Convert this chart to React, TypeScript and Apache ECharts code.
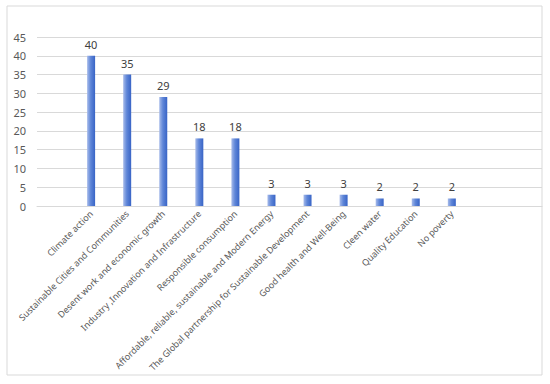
import React, { useEffect, useRef } from "react";
import * as echarts from "echarts";

const categories = [
  "",
  "Climate action",
  "Sustainable Cities and Communities",
  "Desent work and economic growth",
  "Industry ,Innovation and Infrastructure",
  "Responsible consumption",
  "Affordable, reliable, sustainable and Modern Energy",
  "The Global partnership for Sustainable Development",
  "Good health and Well-Being",
  "Cleen water",
  "Quality Education",
  "No poverty",
  "",
  "",
];
const values: (number | null)[] = [null, 40, 35, 29, 18, 18, 3, 3, 3, 2, 2, 2, null, null];
const yTicks = { min: 0, max: 45, interval: 5 };

export default function App() {
  const ref = useRef<HTMLDivElement>(null);
  useEffect(() => {
    const chart = echarts.init(ref.current!, null, { renderer: "svg" });
    chart.setOption({
      animation: false,
      graphic: [
        {
          type: "rect",
          shape: { x: 7, y: 6, width: 535, height: 369 },
          style: { fill: "none", stroke: "#d9d9d9", lineWidth: 1 },
          silent: true,
        },
      ],
      grid: { left: 37, right: 8, top: 37, bottom: 178 },
      xAxis: {
        type: "category",
        data: categories,
        axisLine: { lineStyle: { color: "#d9d9d9" } },
        axisTick: { show: false },
        axisLabel: {
          interval: 0,
          rotate: 45,
          color: "#595959",
          fontSize: 9,
          fontFamily: "Noto Sans",
          margin: 6,
        },
      },
      yAxis: {
        type: "value",
        min: yTicks.min,
        max: yTicks.max,
        interval: yTicks.interval,
        axisLine: { show: false },
        axisTick: { show: false },
        splitLine: { lineStyle: { color: "#d9d9d9" } },
        axisLabel: { color: "#595959", fontSize: 11, fontFamily: "Noto Sans", margin: 11 },
      },
      series: [
        {
          type: "bar",
          data: values,
          barWidth: 8,
          itemStyle: {
            color: new echarts.graphic.LinearGradient(0, 0, 1, 0, [
              { offset: 0, color: "#a7bbea" },
              { offset: 0.45, color: "#5f86d8" },
              { offset: 1, color: "#3864c6" },
            ]),
          },
          label: {
            show: true,
            position: "top",
            distance: 6,
            color: "#404040",
            fontSize: 11,
            fontFamily: "Noto Sans",
          },
        },
      ],
    });
    return () => chart.dispose();
  }, []);
  return <div ref={ref} style={{ width: 550, height: 384, position: "absolute", left: 0, top: 0 }} />;
}
